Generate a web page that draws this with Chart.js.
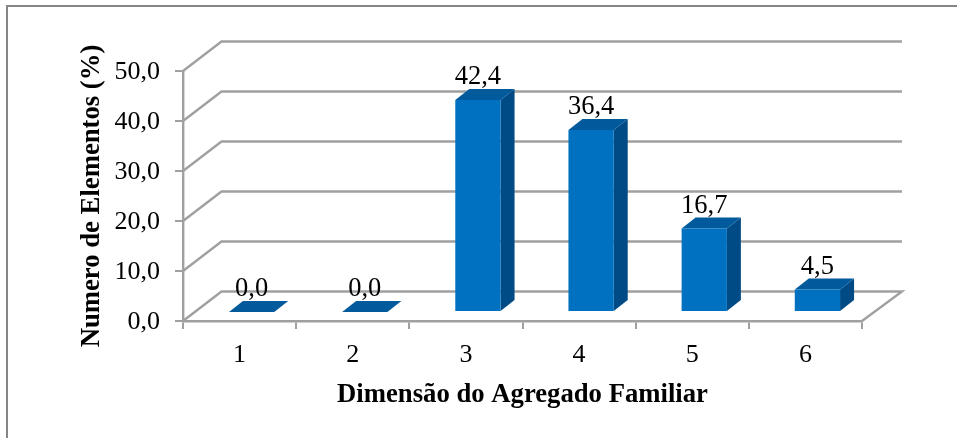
<!DOCTYPE html>
<html>
<head>
<meta charset="utf-8">
<style>
body { margin: 0; background: #fff; }
#box { width: 957px; height: 438px; }
</style>
<script src="https://cdn.jsdelivr.net/npm/chart.js@4"></script>
</head>
<body>
<div id="box"><canvas id="chart"></canvas></div>
<script>
let categories = ['1', '2', '3', '4', '5', '6'];
let values = [0.0, 0.0, 42.4, 36.4, 16.7, 4.5];
let yTicks = [0, 10, 20, 30, 40, 50];

let xTitle = 'Dimensão do Agregado Familiar';
let yTitle = 'Numero de Elementos (%)';

let serif = '"Liberation Serif", "Times New Roman", serif';
let gridColor = '#a0a0a0';

function comma(v) {
    return v.toFixed(1).replace('.', ',');
}

// the fake 3d: back wall and floor behind the bars, top and side faces on them
let wall = { dxLeft: 38.5, dxRight: 40, dy: -29.5 };
let bar = { shiftX: 12, shiftY: -9, dx: 14, dy: -11 };

function poly(ctx, color, pts) {
    ctx.fillStyle = color;
    ctx.beginPath();
    pts.forEach((p, i) => i ? ctx.lineTo(p[0], p[1]) : ctx.moveTo(p[0], p[1]));
    ctx.closePath();
    ctx.fill();
}

let frame3d = {
    id: 'frame3d',
    beforeDraw(chart) {
        let ctx = chart.ctx;
        ctx.save();
        ctx.strokeStyle = '#868686';
        ctx.lineWidth = 2;
        ctx.beginPath();
        ctx.moveTo(957, 6);
        ctx.lineTo(7, 6);
        ctx.lineTo(7, 438);
        ctx.stroke();
        ctx.restore();
    },
    beforeDatasetsDraw(chart) {
        let ctx = chart.ctx;
        let x = chart.scales.x;
        let y = chart.scales.y;
        ctx.save();
        ctx.strokeStyle = gridColor;
        ctx.lineWidth = 2.4;
        yTicks.forEach(t => {
            let py = y.getPixelForValue(t);
            ctx.beginPath();
            ctx.moveTo(x.left, py);
            ctx.lineTo(x.left + wall.dxLeft, py + wall.dy);
            ctx.lineTo(x.right + wall.dxRight, py + wall.dy);
            if (t === 0) ctx.lineTo(x.right, py);
            ctx.stroke();
        });
        ctx.restore();
    },
    beforeDatasetDraw(chart) {
        let ctx = chart.ctx;
        let bars = chart.getDatasetMeta(0).data;
        ctx.save();
        ctx.translate(bar.shiftX, bar.shiftY);
        bars.forEach(b => {
            let l = b.x - b.width / 2;
            let r = b.x + b.width / 2;
            poly(ctx, '#004b85', [[r, b.y], [r + bar.dx, b.y + bar.dy], [r + bar.dx, b.base + bar.dy], [r, b.base]]);
            poly(ctx, '#005a9c', [[l, b.y], [l + bar.dx, b.y + bar.dy], [r + bar.dx, b.y + bar.dy], [r, b.y]]);
        });
    },
    afterDatasetDraw(chart) {
        chart.ctx.restore();
    },
    afterDatasetsDraw(chart) {
        let ctx = chart.ctx;
        let bars = chart.getDatasetMeta(0).data;
        ctx.save();
        ctx.fillStyle = '#000';
        ctx.font = '26.5px ' + serif;
        ctx.textAlign = 'center';
        ctx.textBaseline = 'alphabetic';
        bars.forEach((b, i) => {
            ctx.fillText(comma(values[i]), b.x + bar.shiftX, b.y + bar.shiftY - 16);
        });
        ctx.restore();
    }
};

new Chart(document.getElementById('chart'), {
    type: 'bar',
    data: {
        labels: categories,
        datasets: [{
            data: values,
            backgroundColor: '#0070c0',
            borderWidth: 0,
            barPercentage: 1,
            categoryPercentage: 0.4
        }]
    },
    options: {
        responsive: true,
        maintainAspectRatio: false,
        animation: false,
        layout: { padding: { left: 76, right: 95, top: 71, bottom: 27 } },
        plugins: { legend: { display: false }, tooltip: { enabled: false } },
        scales: {
            x: {
                afterFit: s => { s.height = 90; },
                grid: { drawOnChartArea: false, color: gridColor, lineWidth: 2, tickLength: 8 },
                border: { color: gridColor, width: 2.4 },
                ticks: { color: '#000', font: { family: serif, size: 26 }, padding: 11, maxRotation: 0 },
                title: { display: true, text: xTitle, color: '#000', font: { family: serif, size: 26.7, weight: 'bold' }, padding: 0 }
            },
            y: {
                min: 0,
                max: 50,
                afterFit: s => { s.width = 107; },
                grid: { drawOnChartArea: false, color: gridColor, lineWidth: 2, tickLength: 8 },
                border: { color: gridColor, width: 2.4 },
                ticks: {
                    stepSize: 10,
                    color: '#000',
                    font: { family: serif, size: 26 },
                    padding: 15,
                    labelOffset: 1,
                    callback: v => comma(v)
                },
                title: { display: true, text: yTitle, color: '#000', font: { family: serif, size: 26.7, weight: 'bold' }, padding: 0 }
            }
        }
    },
    plugins: [frame3d]
});
</script>
</body>
</html>
